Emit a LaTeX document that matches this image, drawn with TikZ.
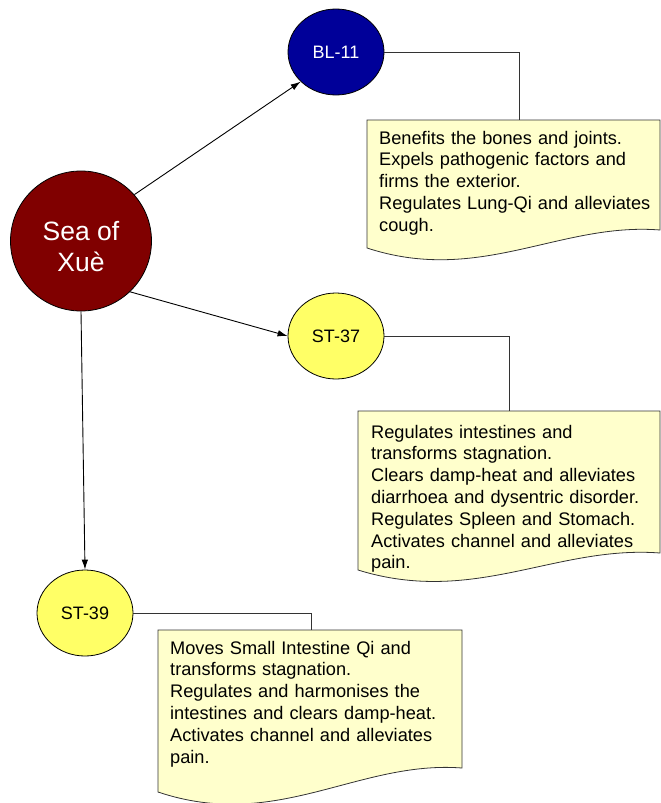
\documentclass[tikz,border=0pt]{standalone}
\usepackage{fontspec}
\setmainfont{Liberation Sans}
\usetikzlibrary{shapes.geometric,arrows.meta}
\definecolor{seared}{HTML}{800000}
\definecolor{blnavy}{HTML}{000099}
\definecolor{styel}{HTML}{FFFF66}
\definecolor{notefill}{HTML}{FFFFCC}
\definecolor{edgegray}{HTML}{333333}
\begin{document}
\begin{tikzpicture}[x=1pt,y=-1pt,
  pointnode/.style={ellipse, draw=black, line width=0.8pt, inner sep=0pt,
    minimum width=96pt, minimum height=86pt, font=\fontsize{18}{21.6}\selectfont},
  notebox/.style={draw=edgegray, fill=notefill, line width=0.8pt},
  notetext/.style={inner sep=0pt, align=left, text width=300pt,
    font=\fontsize{18.2}{21.8}\selectfont, anchor=base west},
  link/.style={draw=edgegray, line width=0.8pt},
  arr/.style={draw=black, line width=0.9pt, -{Latex[length=10pt,width=6.5pt]}}
]
\useasboundingbox (0,0) rectangle (661,803);

% notes
\path[notebox] (367,120) -- (660,120) -- (660,230)
  .. controls (560,222) and (480,285) .. (367,248) -- cycle;
\coordinate (n1) at (519,120);
\path[notebox] (358,411) -- (660,411) -- (660,553)
  .. controls (556,545) and (474,606) .. (358,570) -- cycle;
\coordinate (n2) at (509,411);
\path[notebox] (158,630) -- (462,630) -- (462,768)
  .. controls (358,760) and (277,832) .. (158,792) -- cycle;
\coordinate (n3) at (311,630);

\node[notetext] (t1) at (379,144) {Benefits the bones and joints.\\Expels pathogenic factors and\\firms the exterior.\\Regulates Lung-Qi and alleviates\\cough.};
\node[notetext] (t2) at (371,438) {Regulates intestines and\\transforms stagnation.\\Clears damp-heat and alleviates\\diarrhoea and dysentric disorder.\\Regulates Spleen and Stomach.\\Activates channel and alleviates\\pain.};
\node[notetext] (t3) at (170,654) {Moves Small Intestine Qi and\\transforms stagnation.\\Regulates and harmonises the\\intestines and clears damp-heat.\\Activates channel and alleviates\\pain.};

% points
\node[pointnode, fill=seared, text=white, minimum width=141pt, minimum height=140pt,
  font=\fontsize{26.5}{31.8}\selectfont] (sea) at (81,241)
  {\raisebox{-14.5pt}[0pt][0pt]{\begin{tabular}{@{}c@{}}Sea of\\[-1pt]Xuè\end{tabular}}};
\node[pointnode, fill=blnavy, text=white] (bl) at (336,52) {BL-11};
\node[pointnode, fill=styel] (st37) at (336,336) {ST-37};
\node[pointnode, fill=styel] (st39) at (85,613) {ST-39};

% connectors
\draw[link] (bl.east) -| (n1);
\draw[link] (st37.east) -| (n2);
\draw[link] (st39.east) -| (n3);

\draw[arr] (sea.41) -- (bl.220);
\draw[arr] (sea.-46) -- (st37.west);
\draw[arr] (sea.south) -- (st39.north);
\end{tikzpicture}
\end{document}
